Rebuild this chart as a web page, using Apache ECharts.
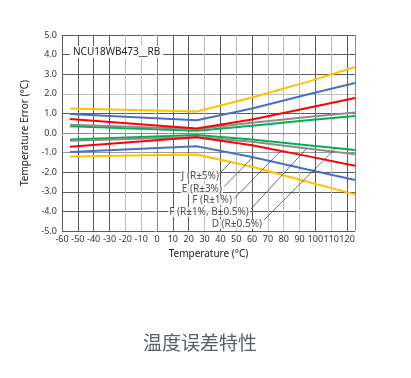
<!DOCTYPE html>
<html>
<head>
<meta charset="utf-8">
<script src="https://cdn.jsdelivr.net/npm/echarts@6/dist/echarts.min.js"></script>
<style>
  html, body { margin: 0; padding: 0; background: #fff; }
  #chart { width: 411px; height: 378px; }
</style>
</head>
<body>
<div id="chart"></div>
<script>
const temps = [-55, 25, 60, 95, 125];

const jHigh = [1.25, 1.10, 1.81, 2.61, 3.37];
const jLow = [-1.20, -1.10, -1.72, -2.49, -3.13];
const eHigh = [0.97, 0.65, 1.25, 1.96, 2.55];
const eLow = [-0.97, -0.68, -1.22, -1.86, -2.40];
const fHigh = [0.72, 0.23, 0.69, 1.28, 1.79];
const fLow = [-0.70, -0.22, -0.62, -1.18, -1.67];
const fbHigh = [0.42, 0.20, 0.52, 0.82, 1.05];
const fbLow = [-0.40, -0.20, -0.45, -0.79, -1.08];
const dHigh = [0.35, 0.11, 0.37, 0.65, 0.87];
const dLow = [-0.33, -0.10, -0.33, -0.62, -0.87];

const gradeLabels = ["J (R±5%)", "E (R±3%)", "F (R±1%)", "F (R±1%, B±0.5%)", "D (R±0.5%)"];
// label anchors (right end of text) and leader lines, in data units
const labelAt = [[39.7, -2.2], [41.6, -2.86], [47.9, -3.45], [58.6, -4.03], [66.9, -4.64]];
const leaderFrom = [[40.3, -2.0], [42.3, -2.74], [48.9, -3.33], [59.3, -3.88], [67.5, -4.44]];
const leaderTo = [[46.6, -1.48], [60.5, -1.23], [78.1, -0.91], [94.5, -0.785], [112.8, -0.77]];

const xTickColors = ["#5a5a5a", "#5a5a5a", "#5a5a5a", "#5a5a5a", "#bdbdbd", "#bdbdbd", "#5a5a5a", "#5a5a5a", "#5a5a5a", "#bdbdbd",
  "#5a5a5a", "#bdbdbd", "#5a5a5a", "#bdbdbd", "#bdbdbd", "#bdbdbd", "#5a5a5a", "#bdbdbd", "#5a5a5a", "#888"];
const yTickColors = ["#5a5a5a", "#5a5a5a", "#5a5a5a", "#5a5a5a", "#999", "#999", "#5a5a5a", "#bdbdbd", "#5a5a5a", "#5a5a5a", "#5a5a5a"];

const FONT = "Noto Sans";
const YELLOW = "#ffc000";
const BLUE = "#4472c4";
const RED = "#ff0000";
const GRAY = "#8c8c8c";
const GREEN = "#00b050";

function curve(values, color) {
  return {
    type: "line",
    data: temps.map((t, i) => [t, values[i]]),
    symbol: "none",
    lineStyle: { width: 2, color },
    z: 3,
  };
}

const chart = echarts.init(document.getElementById("chart"), null, { renderer: "canvas" });

chart.setOption({
  animation: false,
  title: [
    {
      text: "NCU18WB473__RB",
      left: 70,
      top: 46,
      padding: [1, 3],
      backgroundColor: "#fff",
      textStyle: { fontFamily: FONT, fontSize: 10, fontWeight: "normal", color: "#222" },
    },
    {
      text: "温度误差特性",
      left: 143,
      top: 333,
      padding: 0,
      textStyle: { fontFamily: "Noto Sans CJK SC", fontSize: 19, fontWeight: "normal", color: "#56606a" },
    },
  ],
  grid: { left: 62, top: 35, width: 293, height: 196, containLabel: false },
  xAxis: {
    type: "value",
    min: -60,
    max: 125,
    interval: 10,
    name: "Temperature (°C)",
    nameLocation: "middle",
    nameGap: 14,
    nameTextStyle: { fontFamily: FONT, fontSize: 10, color: "#222" },
    axisLine: { lineStyle: { color: "#888", width: 1 } },
    axisTick: { show: true, length: 3, lineStyle: { color: "#888" } },
    axisLabel: { fontFamily: FONT, fontSize: 9, color: "#333", margin: 4, showMaxLabel: false },
    splitLine: { show: true, lineStyle: { color: xTickColors, width: 1 } },
  },
  yAxis: {
    type: "value",
    min: -5,
    max: 5,
    interval: 1,
    name: "Temperature Error (°C)",
    nameLocation: "middle",
    nameGap: 21,
    nameTextStyle: { fontFamily: FONT, fontSize: 10, color: "#222" },
    axisLine: { show: true, lineStyle: { color: "#888", width: 1 } },
    axisTick: { show: true, length: 3, lineStyle: { color: "#888" } },
    axisLabel: { fontFamily: FONT, fontSize: 9, color: "#333", margin: 5, formatter: (v) => v.toFixed(1) },
    splitLine: { show: true, lineStyle: { color: yTickColors, width: 1 } },
  },
  series: [
    curve(dHigh, GREEN),
    curve(dLow, GREEN),
    curve(fbHigh, GRAY),
    curve(fbLow, GRAY),
    curve(fHigh, RED),
    curve(fLow, RED),
    curve(eHigh, BLUE),
    curve(eLow, BLUE),
    curve(jHigh, YELLOW),
    curve(jLow, YELLOW),
    {
      type: "scatter",
      symbolSize: 0,
      z: 5,
      data: gradeLabels.map((name, i) => ({ value: labelAt[i], name })),
      label: {
        show: true,
        position: "left",
        distance: 0,
        formatter: (p) => p.name,
        fontFamily: FONT,
        fontSize: 10,
        color: "#222",
        backgroundColor: "#fff",
        padding: [0, 1],
      },
      markLine: {
        silent: true,
        symbol: "none",
        label: { show: false },
        lineStyle: { color: "#333", width: 0.7, type: "solid" },
        data: leaderFrom.map((from, i) => [{ coord: from }, { coord: leaderTo[i] }]),
      },
    },
  ],
});
</script>
</body>
</html>
